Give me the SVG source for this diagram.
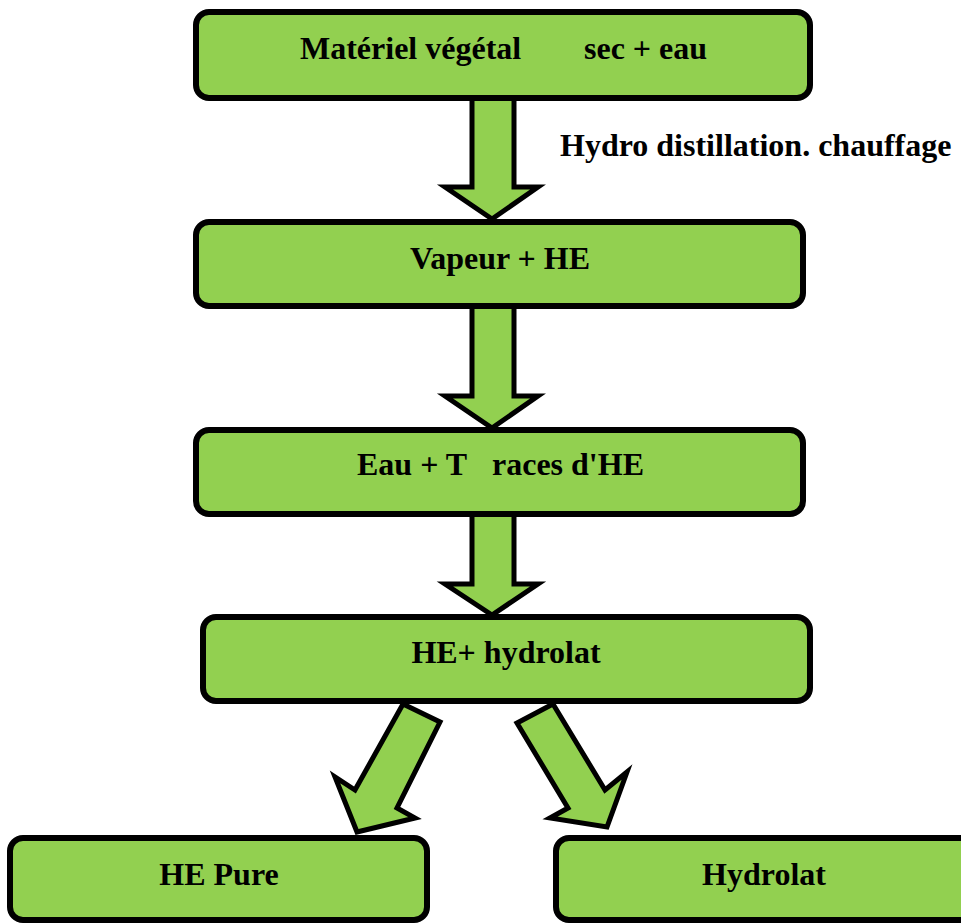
<svg xmlns="http://www.w3.org/2000/svg" width="961" height="923" viewBox="0 0 961 923">
<style>
.box{fill:#92D050;stroke:#000;stroke-width:6;}
.arr{fill:#92D050;stroke:#000;stroke-width:5;stroke-linejoin:miter;}
.t{font-family:"Liberation Serif","Times New Roman",serif;font-weight:bold;font-size:32px;fill:#000;}
</style>
<rect width="961" height="923" fill="#fff"/>
<g id="connectors">
<polygon class="arr" points="472,98 514,98 514,187 538,187 492,219 445,187 472,187"/>
<polygon class="arr" points="472,306 514,306 514,396 538,396 492,428 445,396 472,396"/>
<polygon class="arr" points="472,514 514,514 514,584 538,584 492,615 445,584 472,584"/>
<polygon class="arr" points="403,704 440,722 397,808 415,818 357,832 335,777 355,790"/>
<polygon class="arr" points="553,704 517,723 568,808 550,818 607,827 627,772 605,790"/>
</g>
<g id="n1">
<rect class="box" x="196" y="12" width="614" height="86" rx="13"/>
<text class="t" x="300" y="59">Matériel végétal</text>
<text class="t" x="584" y="59">sec + eau</text>
</g>
<text id="lbl" class="t" x="560" y="156">Hydro distillation. chauffage</text>
<g id="n2">
<rect class="box" x="196" y="222" width="607" height="84" rx="13"/>
<text class="t" x="500" y="269" text-anchor="middle">Vapeur + HE</text>
</g>
<g id="n3">
<rect class="box" x="196" y="430" width="607" height="84" rx="13"/>
<text class="t" x="357" y="475">Eau + T</text>
<text class="t" x="492" y="475">races d'HE</text>
</g>
<g id="n4">
<rect class="box" x="203" y="617" width="607" height="84" rx="13"/>
<text class="t" x="506" y="663" text-anchor="middle">HE+ hydrolat</text>
</g>
<g id="n5">
<rect class="box" x="10" y="838" width="417" height="82" rx="13"/>
<text class="t" x="219" y="885" text-anchor="middle">HE Pure</text>
</g>
<g id="n6">
<rect class="box" x="556" y="838" width="420" height="82" rx="13"/>
<text class="t" x="764" y="885" text-anchor="middle">Hydrolat</text>
</g>
</svg>
